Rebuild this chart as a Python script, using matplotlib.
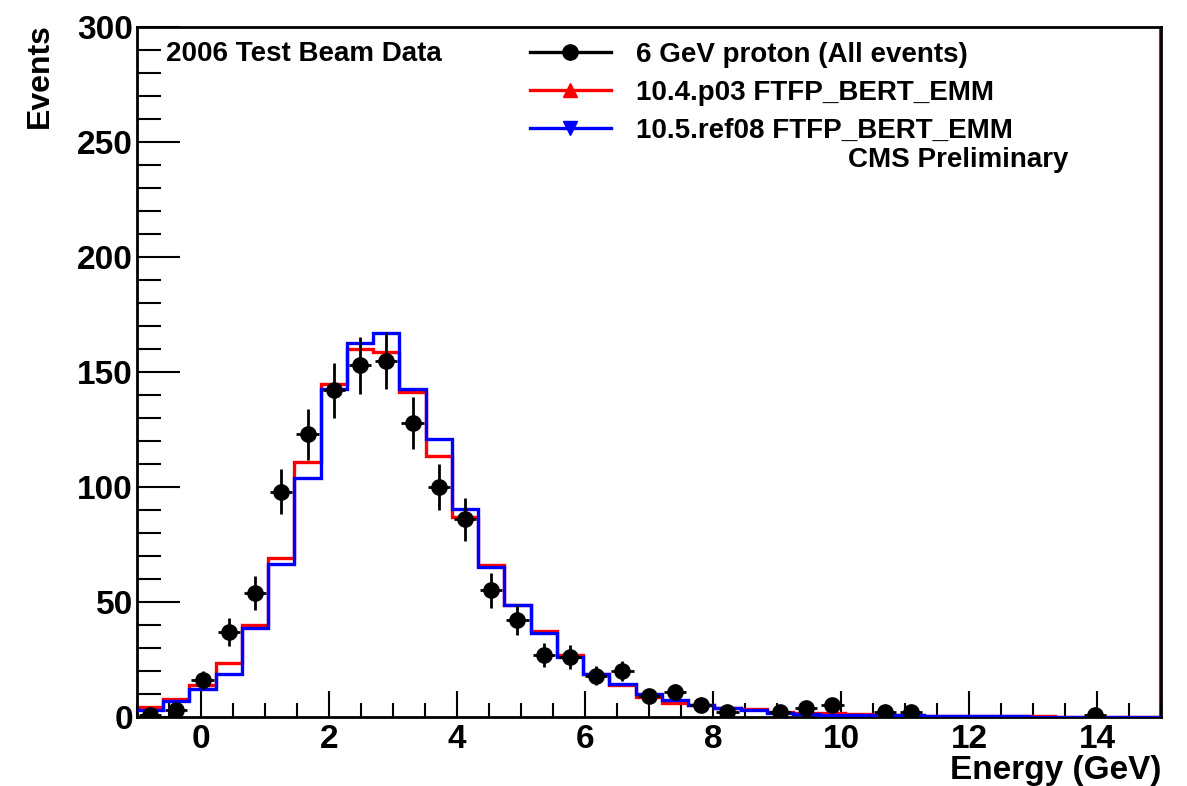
import numpy as np
import matplotlib
matplotlib.use("Agg")
import matplotlib.pyplot as plt
from matplotlib.lines import Line2D
from matplotlib.ticker import MultipleLocator

plt.rcParams['font.family'] = ['Liberation Sans', 'DejaVu Sans']
plt.rcParams['font.weight'] = 'bold'

# Binning (ROOT-like histogram)
bin_low = -1.0
bin_width = 0.41
n_bins = 39

# Data: 6 GeV proton (All events); 0 = empty bin (not drawn)
data_counts = [1, 3, 16, 37, 54, 98, 123, 142, 153, 155, 128, 100, 86, 55, 42,
               27, 26, 18, 20, 9, 11, 5, 2, 0, 2, 4, 5, 0, 2, 2,
               0, 0, 0, 0, 0, 0, 1, 0, 0]

# 10.4.p03 FTFP_BERT_EMM
red_hist = [4.5, 8, 14, 23.6, 40, 69.3, 111, 144.6, 160, 158.8, 141.4, 113.5,
            87, 66, 48.7, 37.4, 26.8, 18.5, 14, 8.7, 6.2, 5.2, 4, 3.3, 2.2,
            1.9, 1.6, 1.2, 1.0, 0.8, 0.6, 0.5, 0.4, 0.3, 0.3, 0.2, 0.2, 0.1, 0.1]

# 10.5.ref08 FTFP_BERT_EMM
blue_hist = [3, 6.8, 12.3, 18.8, 38.6, 66.4, 103.8, 142.7, 162.7, 167.1, 142.7,
             120.7, 90.6, 65, 48.7, 36.7, 26, 18.5, 14.2, 10, 7.2, 5.2, 4, 2.9,
             1.9, 1.4, 1.0, 0.8, 0.9, 0.7, 0.5, 0.4, 0.3, 0.3, 0.2, 0.2, 0.1,
             0.1, 0.1]

labels = ["6 GeV proton (All events)", "10.4.p03 FTFP_BERT_EMM",
          "10.5.ref08 FTFP_BERT_EMM"]

edges = bin_low + bin_width * np.arange(n_bins + 1)
centers = 0.5 * (edges[:-1] + edges[1:])
data = np.array(data_counts, dtype=float)

fig = plt.figure(figsize=(11.87, 7.86), dpi=100)
ax = fig.add_axes([0.1154, 0.0878, 0.9781 - 0.1154, 0.9656 - 0.0878])

ax.stairs(red_hist, edges, color='#ff0000', lw=2.4, baseline=None, zorder=2)
ax.stairs(blue_hist, edges, color='#0000ff', lw=2.4, baseline=None, zorder=3)

mask = data > 0
ax.errorbar(centers[mask], data[mask], yerr=np.sqrt(data[mask]),
            xerr=bin_width / 2 * 0.85, fmt='o', color='black', ms=11,
            elinewidth=2, capsize=0, zorder=5)

ax.axvline(14.985, color='#ff0000', lw=1.5, zorder=1)

ax.set_xlim(-1, 15)
ax.set_ylim(0, 300)
ax.xaxis.set_major_locator(MultipleLocator(2))
ax.xaxis.set_minor_locator(MultipleLocator(0.5))
ax.yaxis.set_major_locator(MultipleLocator(50))
ax.yaxis.set_minor_locator(MultipleLocator(10))
ax.tick_params(axis='both', which='both', direction='in', top=False, right=False,
               width=1.5, labelsize=24)
ax.tick_params(axis='x', which='major', length=19, pad=5)
ax.tick_params(axis='x', which='minor', length=10)
ax.tick_params(axis='y', which='major', length=31, pad=3)
ax.tick_params(axis='y', which='minor', length=17)
for lbl in ax.get_xticklabels() + ax.get_yticklabels():
    lbl.set_fontweight('bold')
for s in ax.spines.values():
    s.set_linewidth(2)

fig.text(0.034, 0.97, "Events", rotation=90, ha='center', va='top',
         fontsize=23, fontweight='bold')
fig.text(0.9781, 0.0, "Energy (GeV)", ha='right', va='bottom',
         fontsize=24, fontweight='bold')

ax.text(0.028, 0.98, "2006 Test Beam Data", transform=ax.transAxes,
        ha='left', va='top', fontsize=20, fontweight='bold')

handles = [
    Line2D([], [], color='black', lw=2.4, marker='o', ms=11),
    Line2D([], [], color='#ff0000', lw=2.4, marker='^', ms=10),
    Line2D([], [], color='#0000ff', lw=2.4, marker='v', ms=10),
]
leg = ax.legend(handles, labels, loc='upper left', bbox_to_anchor=(0.384, 0.978),
                frameon=False, fontsize=20, handlelength=2.9,
                handletextpad=0.9, labelspacing=0.42, borderaxespad=0,
                borderpad=0)
for t in leg.get_texts():
    t.set_fontweight('bold')

ax.text(0.91, 0.807, "CMS Preliminary", transform=ax.transAxes,
        ha='right', va='center', fontsize=20, fontweight='bold')

fig.savefig("out.png", dpi=100)
